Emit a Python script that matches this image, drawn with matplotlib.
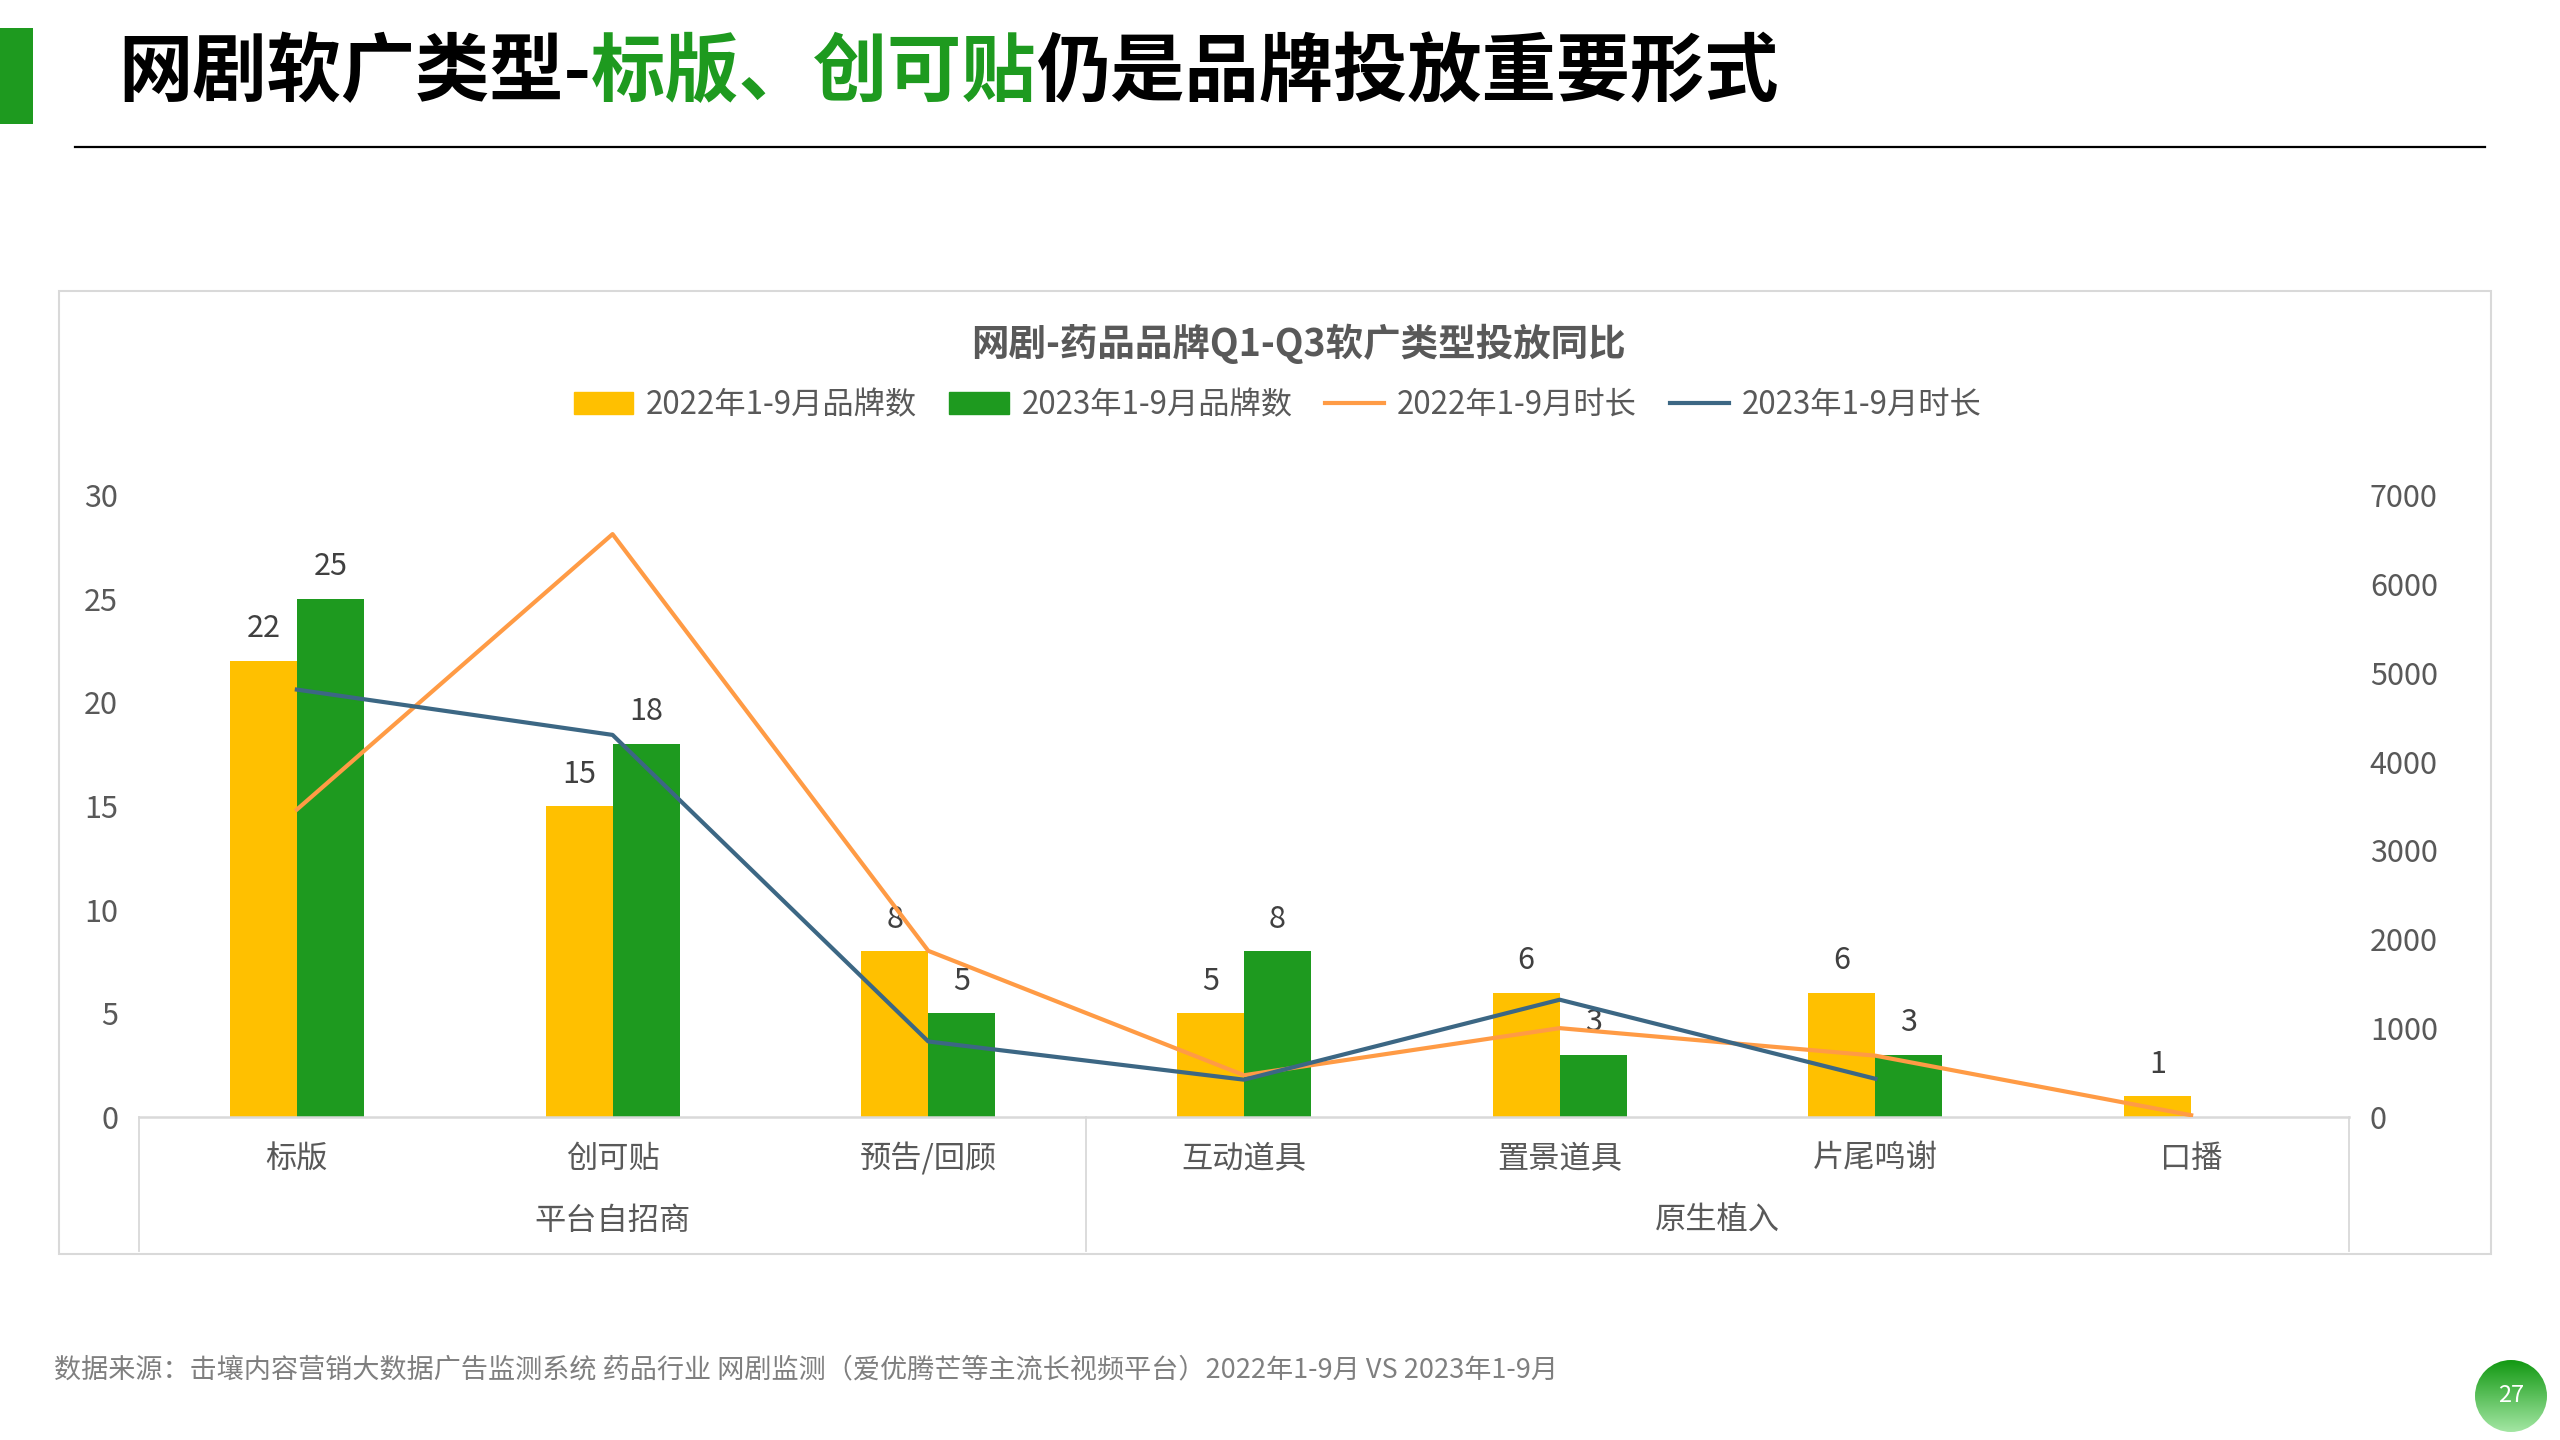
import numpy as np
import matplotlib.pyplot as plt
from matplotlib.patches import Rectangle, Patch, Circle
from matplotlib.lines import Line2D
from matplotlib.colors import LinearSegmentedColormap
import matplotlib.transforms as mtransforms

plt.rcParams['font.family'] = ['Noto Sans CJK SC', 'DejaVu Sans']

# data
categories = ['标版', '创可贴', '预告/回顾', '互动道具', '置景道具', '片尾鸣谢', '口播']
groups = ['平台自招商', '原生植入']
group_bounds = [-0.5, 2.5, 6.5]
brands_2022 = [22, 15, 8, 5, 6, 6, 1]
brands_2023 = [25, 18, 5, 8, 3, 3, np.nan]
duration_2022 = [3460, 6560, 1870, 470, 1000, 690, 20]
duration_2023 = [4810, 4300, 850, 420, 1320, 430, np.nan]
left_ticks = [0, 5, 10, 15, 20, 25, 30]
right_ticks = [0, 1000, 2000, 3000, 4000, 5000, 6000, 7000]
series_names = ['2022年1-9月品牌数', '2023年1-9月品牌数', '2022年1-9月时长', '2023年1-9月时长']

YELLOW = '#FFC000'
GREEN = '#1E9A1F'
ORANGE = '#FF9B45'
BLUE = '#3C6784'
GREY_TXT = '#595959'
GREY_LN = '#D9D9D9'

fig = plt.figure(figsize=(25.6, 14.4), dpi=100)

# background decorations
bg = fig.add_axes([0, 0, 1, 1], zorder=-5)
bg.set_xlim(0, 1)
bg.set_ylim(0, 1)
bg.axis('off')
bg.add_patch(Rectangle((0, 1 - 124 / 1440), 33 / 2560, 96 / 1440, color=GREEN, lw=0))
bg.plot([75 / 2560, 2485 / 2560], [1 - 147 / 1440] * 2, color='black', lw=1.6)
bg.add_patch(Rectangle((59 / 2560, 1 - 1254 / 1440), (2491 - 59) / 2560, (1254 - 291) / 1440,
                       fill=False, ec=GREY_LN, lw=1.5))

# page title, three colored parts
t1 = bg.text(118 / 2560, 1 - 73 / 1440, '网剧软广类型-', fontsize=53.5, fontweight='heavy',
             color='black', ha='left', va='center')
t2 = bg.annotate('标版、创可贴', xy=(1, 0), xycoords=t1, ha='left', va='bottom',
                 fontsize=53.5, fontweight='heavy', color=GREEN)
t3 = bg.annotate('仍是品牌投放重要形式', xy=(1, 0), xycoords=t2, ha='left', va='bottom',
                 fontsize=53.5, fontweight='heavy', color='black')

# chart title
bg.text(1298 / 2560, 1 - 344 / 1440, '网剧-药品品牌Q1-Q3软广类型投放同比', fontsize=27,
        fontweight='bold', color=GREY_TXT, ha='center', va='center')

# footer
bg.text(54 / 2560, 1 - 1370 / 1440,
        '数据来源：击壤内容营销大数据广告监测系统 药品行业 网剧监测（爱优腾芒等主流长视频平台）2022年1-9月 VS 2023年1-9月',
        fontsize=19.5, color='#7F7F7F', ha='left', va='center')

# main chart
ax = fig.add_axes([139 / 2560, 1 - 1117 / 1440, (2349 - 139) / 2560, (1117 - 495) / 1440])
x = np.arange(len(categories))
w = 0.212
ax.bar(x - w / 2, brands_2022, w, color=YELLOW, label=series_names[0])
ax.bar(x + w / 2, brands_2023, w, color=GREEN, label=series_names[1])
for xi, v in zip(x - w / 2, brands_2022):
    if not np.isnan(v):
        ax.annotate(f'{v:g}', (xi, v), xytext=(0, 23), textcoords='offset points',
                    ha='center', va='center', fontsize=22, color='#404040')
for xi, v in zip(x + w / 2, brands_2023):
    if not np.isnan(v):
        ax.annotate(f'{v:g}', (xi, v), xytext=(0, 23), textcoords='offset points',
                    ha='center', va='center', fontsize=22, color='#404040')

ax.set_xlim(-0.5, len(categories) - 0.5)
ax.set_ylim(0, 30)
ax.set_yticks(left_ticks)
ax.set_xticks([])
for s in ['top', 'right', 'left']:
    ax.spines[s].set_visible(False)
ax.spines['bottom'].set_color(GREY_LN)
ax.spines['bottom'].set_linewidth(1.8)
ax.tick_params(axis='y', length=0, pad=15, labelsize=22, labelcolor=GREY_TXT)

trans = mtransforms.blended_transform_factory(ax.transData, ax.transAxes)
for xi, c in zip(x, categories):
    ax.text(xi, -0.0675, c, transform=trans, ha='center', va='center', fontsize=22.5, color=GREY_TXT)
for gx in group_bounds:
    ax.plot([gx, gx], [0, -0.215], transform=trans, color=GREY_LN, lw=1.3, clip_on=False)
for i, g in enumerate(groups):
    mid = (group_bounds[i] + group_bounds[i + 1]) / 2
    ax.text(mid, -0.167, g, transform=trans, ha='center', va='center', fontsize=22.5, color=GREY_TXT)

ax2 = ax.twinx()
ax2.plot(x, duration_2022, color=ORANGE, lw=3, label=series_names[2])
ax2.plot(x, duration_2023, color=BLUE, lw=3, label=series_names[3])
ax2.set_ylim(0, 7000)
ax2.set_yticks(right_ticks)
for s in ['top', 'right', 'left', 'bottom']:
    ax2.spines[s].set_visible(False)
ax2.tick_params(axis='y', length=0, pad=15, labelsize=22, labelcolor=GREY_TXT)

handles = [Patch(color=YELLOW), Patch(color=GREEN),
           Line2D([], [], color=ORANGE, lw=3), Line2D([], [], color=BLUE, lw=3)]
fig.legend(handles, series_names, loc='center', bbox_to_anchor=(0.499, 1 - 405 / 1440),
           ncol=4, frameon=False, fontsize=22.5, labelcolor=GREY_TXT,
           handlelength=1.9, handletextpad=0.4, columnspacing=1.05)

# page number badge
pax = fig.add_axes([2475 / 2560, 1 - 1432 / 1440, 72 / 2560, 72 / 1440])
grad = np.linspace(0, 1, 100).reshape(-1, 1)
cmap = LinearSegmentedColormap.from_list('g', ['#139913', '#A3E6A3'])
im = pax.imshow(grad, cmap=cmap, extent=(0, 1, 0, 1), origin='upper', aspect='auto')
circ = Circle((0.5, 0.5), 0.5, transform=pax.transAxes)
im.set_clip_path(circ)
pax.text(0.5, 0.5, '27', ha='center', va='center', fontsize=17, color='white', transform=pax.transAxes)
pax.axis('off')

fig.savefig('out.png', dpi=100)
